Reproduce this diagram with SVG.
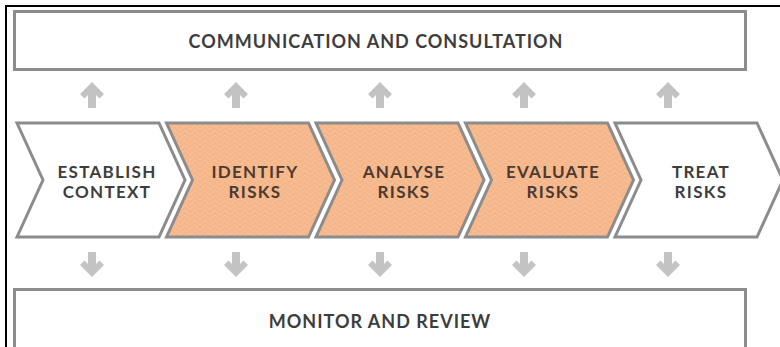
<svg xmlns="http://www.w3.org/2000/svg" width="780" height="347" viewBox="0 0 780 347">
<style>
.box{fill:#ffffff;stroke:#8c8c8c;stroke-width:3}
.chev{stroke:#8c8c8c;stroke-width:3;stroke-linejoin:miter}
.w{fill:#ffffff}
.o{fill:url(#zig)}
.arr{fill:#c3c3c3}
.t{font-family:Lato,"Liberation Sans",sans-serif;font-weight:bold;font-size:18px;letter-spacing:1px;fill:#3d3d3d;text-anchor:middle}
.c{font-size:17px;letter-spacing:1.3px}
.to{fill:#4d3a30}
</style>
<defs>
<pattern id="zig" width="10" height="10" patternUnits="userSpaceOnUse">
<rect width="10" height="10" fill="#f5b68a"/>
<path d="M0 10 L5 5 L10 10 M0 5 L5 0 L10 5" fill="none" stroke="#f8c29e" stroke-width="1"/>
</pattern>
</defs>
<rect x="0" y="0" width="780" height="347" fill="#ffffff"/>
<path d="M6 347 V6 H780" fill="none" stroke="#000000" stroke-width="2"/>
<g id="communication">
<rect class="box" x="14.5" y="11.5" width="731" height="58"/>
<text class="t" x="376" y="48">COMMUNICATION AND CONSULTATION</text>
</g>
<g id="monitor">
<rect class="box" x="14.5" y="289.5" width="731" height="80"/>
<text class="t" x="380" y="328">MONITOR AND REVIEW</text>
</g>
<g id="establish">
<polygon class="chev w" points="17,123 159,123 185,180 159,237 17,237 43,180"/>
<text class="t c" x="107" y="177.5">ESTABLISH</text>
<text class="t c" x="107" y="198">CONTEXT</text>
</g>
<g id="identify">
<polygon class="chev o" points="166.5,123 308.5,123 334.5,180 308.5,237 166.5,237 192.5,180"/>
<text class="t c to" x="255" y="177.5">IDENTIFY</text>
<text class="t c to" x="255" y="198">RISKS</text>
</g>
<g id="analyse">
<polygon class="chev o" points="316,123 458,123 484,180 458,237 316,237 342,180"/>
<text class="t c to" x="404" y="177.5">ANALYSE</text>
<text class="t c to" x="404" y="198">RISKS</text>
</g>
<g id="evaluate">
<polygon class="chev o" points="465.5,123 607.5,123 633.5,180 607.5,237 465.5,237 491.5,180"/>
<text class="t c to" x="553" y="177.5">EVALUATE</text>
<text class="t c to" x="553" y="198">RISKS</text>
</g>
<g id="treat">
<polygon class="chev w" points="615,123 757,123 783,180 757,237 615,237 641,180"/>
<text class="t c" x="701" y="177.5">TREAT</text>
<text class="t c" x="701" y="198">RISKS</text>
</g>
<g id="connectors">
<g id="up-arrows">
<polygon class="arr" transform="translate(92,0)" points="0,82 12,94 7.5,98.5 4,95 4,108 -4,108 -4,95 -7.5,98.5 -12,94"/>
<polygon class="arr" transform="translate(236,0)" points="0,82 12,94 7.5,98.5 4,95 4,108 -4,108 -4,95 -7.5,98.5 -12,94"/>
<polygon class="arr" transform="translate(380,0)" points="0,82 12,94 7.5,98.5 4,95 4,108 -4,108 -4,95 -7.5,98.5 -12,94"/>
<polygon class="arr" transform="translate(524,0)" points="0,82 12,94 7.5,98.5 4,95 4,108 -4,108 -4,95 -7.5,98.5 -12,94"/>
<polygon class="arr" transform="translate(668,0)" points="0,82 12,94 7.5,98.5 4,95 4,108 -4,108 -4,95 -7.5,98.5 -12,94"/>
</g>
<g id="down-arrows">
<polygon class="arr" transform="translate(92,0)" points="0,277 12,265 7.5,260.5 4,264 4,252 -4,252 -4,264 -7.5,260.5 -12,265"/>
<polygon class="arr" transform="translate(236,0)" points="0,277 12,265 7.5,260.5 4,264 4,252 -4,252 -4,264 -7.5,260.5 -12,265"/>
<polygon class="arr" transform="translate(380,0)" points="0,277 12,265 7.5,260.5 4,264 4,252 -4,252 -4,264 -7.5,260.5 -12,265"/>
<polygon class="arr" transform="translate(524,0)" points="0,277 12,265 7.5,260.5 4,264 4,252 -4,252 -4,264 -7.5,260.5 -12,265"/>
<polygon class="arr" transform="translate(668,0)" points="0,277 12,265 7.5,260.5 4,264 4,252 -4,252 -4,264 -7.5,260.5 -12,265"/>
</g>
</g>
</svg>
